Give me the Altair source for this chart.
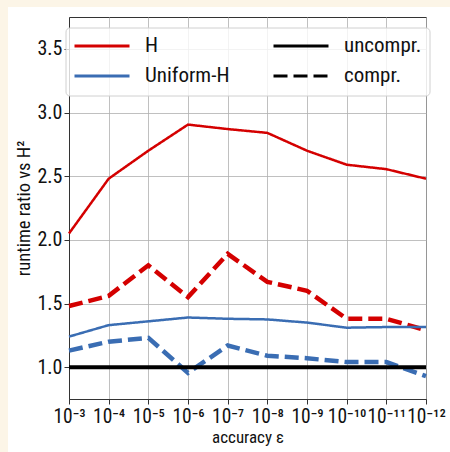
import altair as alt
import pandas as pd

FONT = "Roboto Condensed, Roboto, sans-serif"

eps_labels = ["10⁻³", "10⁻⁴", "10⁻⁵", "10⁻⁶", "10⁻⁷", "10⁻⁸", "10⁻⁹", "10⁻¹⁰", "10⁻¹¹", "10⁻¹²"]
h_uncompr = [2.05, 2.48, 2.70, 2.905, 2.87, 2.84, 2.70, 2.59, 2.555, 2.48]
h_compr = [1.48, 1.56, 1.80, 1.55, 1.89, 1.67, 1.60, 1.38, 1.38, 1.29]
uh_uncompr = [1.24, 1.33, 1.36, 1.39, 1.38, 1.375, 1.35, 1.31, 1.315, 1.315]
uh_compr = [1.13, 1.20, 1.23, 0.955, 1.17, 1.09, 1.07, 1.04, 1.04, 0.93]
baseline = [1.0]

rows = []
for method, kind, vals in [
    ("H", "uncompr.", h_uncompr),
    ("H", "compr.", h_compr),
    ("Uniform-H", "uncompr.", uh_uncompr),
    ("Uniform-H", "compr.", uh_compr),
]:
    for e, v in zip(eps_labels, vals):
        rows.append({"eps": e, "ratio": v, "method": method, "kind": kind,
                     "wkey": "w-" + kind, "series": method + kind})
df = pd.DataFrame(rows)

W, H = 357, 382

x_enc = alt.X("eps:O", sort=eps_labels,
              scale=alt.Scale(type="point", padding=0),
              axis=alt.Axis(title="accuracy ε", labelAngle=0, labelOverlap=False,
                            labelFontSize=19.5, titleFontSize=17, titlePadding=4,
                            labelPadding=3))
y_scale = alt.Scale(domain=[0.75, 3.75], nice=False, zero=False)

# beige frame strips (decoration)
frame = pd.DataFrame({"k": ["left", "top"]})
strip_left = alt.Chart(frame.iloc[:1]).mark_rect(color="#fcf5e7").encode(
    x=alt.value(-69), x2=alt.value(-61), y=alt.value(-17), y2=alt.value(H + 53))
strip_top = alt.Chart(frame.iloc[1:]).mark_rect(color="#fcf5e7").encode(
    x=alt.value(-69), x2=alt.value(W + 24), y=alt.value(-17), y2=alt.value(-10))

legend_common = dict(title=None, orient="none", legendY=14,
                     symbolType="stroke", symbolSize=3025, symbolStrokeWidth=3,
                     labelFontSize=21, labelOffset=14, rowPadding=0, clipHeight=30)

lines = alt.Chart(df).mark_line().encode(
    x=x_enc,
    y=alt.Y("ratio:Q", scale=y_scale,
            axis=alt.Axis(title="runtime ratio vs H²", values=[1.0, 1.5, 2.0, 2.5, 3.0, 3.5],
                          format=".1f", labelFontSize=20, titleFontSize=18.5, titlePadding=3,
                          labelPadding=2)),
    color=alt.Color("method:N", scale=alt.Scale(domain=["H", "Uniform-H"], range=["#d40000", "#3a6db3"]),
                    legend=alt.Legend(legendX=4, **legend_common)),
    strokeDash=alt.StrokeDash("kind:N", scale=alt.Scale(domain=["uncompr.", "compr."], range=[[1, 0], [14, 6]]),
                              legend=alt.Legend(legendX=203, symbolStrokeColor="black", **legend_common)),
    strokeWidth=alt.StrokeWidth("wkey:N", scale=alt.Scale(domain=["w-uncompr.", "w-compr."], range=[2.5, 4.5]),
                                legend=None),
    detail="series:N",
)

base_rule = alt.Chart(pd.DataFrame({"y": baseline})).mark_rule(color="black", strokeWidth=4).encode(
    y=alt.Y("y:Q", scale=y_scale))

legend_box = alt.Chart(pd.DataFrame({"b": [0]})).mark_rect(
    fill="white", fillOpacity=0.8, stroke="#d0d0d0", strokeWidth=1, cornerRadius=4).encode(
    x=alt.value(-3), x2=alt.value(361), y=alt.value(11), y2=alt.value(79))

chart = alt.layer(strip_left, strip_top, lines, base_rule, legend_box).properties(
    width=W, height=H,
    autosize=alt.AutoSizeParams(type="none"),
    padding={"left": 69, "top": 17, "right": 24, "bottom": 53},
    background="white",
).configure_view(stroke="#333333", strokeWidth=1).configure_axis(
    labelFont=FONT, titleFont=FONT, labelColor="#111", titleColor="#111",
    titleFontWeight="normal",
    grid=True, gridColor="#b0b0b0", gridWidth=0.8,
    domainColor="#333", tickColor="#333", tickSize=5,
).configure_legend(labelFont=FONT, labelColor="#111", padding=0)

chart.save("out.html", embed_options={"renderer": "svg", "actions": False})
